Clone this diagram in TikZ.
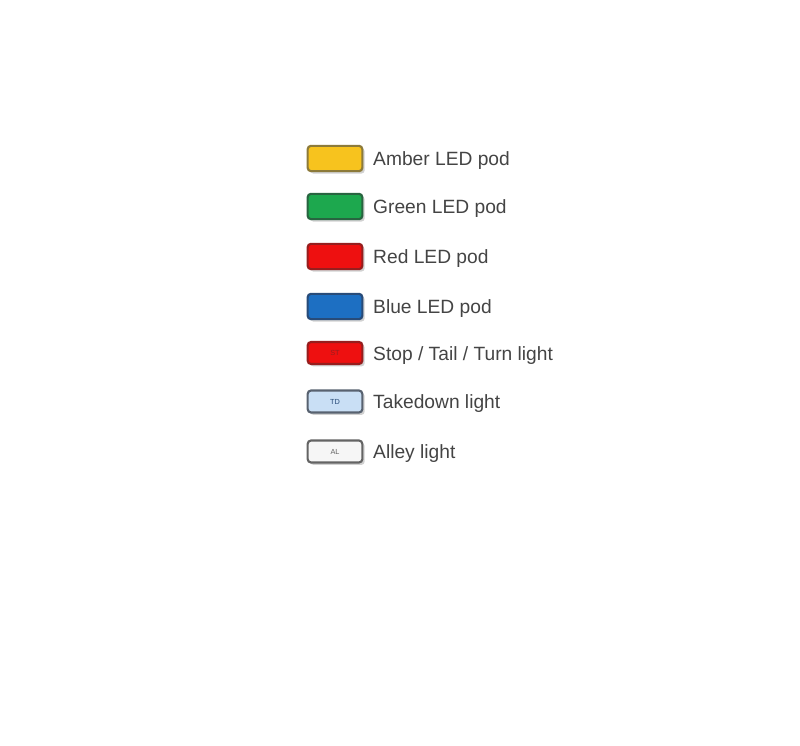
\documentclass[tikz,border=0pt]{standalone}
\usepackage{fontspec}
\setmainfont{Liberation Sans}
\usetikzlibrary{positioning,shadows}

\definecolor{amberfill}{RGB}{247,195,30}
\definecolor{amberline}{RGB}{140,122,58}
\definecolor{greenfill}{RGB}{29,168,78}
\definecolor{greenline}{RGB}{40,100,64}
\definecolor{redfill}{RGB}{238,16,16}
\definecolor{redline}{RGB}{150,30,30}
\definecolor{bluefill}{RGB}{29,111,194}
\definecolor{blueline}{RGB}{40,75,120}
\definecolor{tdfill}{RGB}{201,223,245}
\definecolor{tdline}{RGB}{88,98,112}
\definecolor{alfill}{RGB}{246,246,246}
\definecolor{alline}{RGB}{100,100,100}
\definecolor{labeltext}{RGB}{68,68,68}

\tikzset{every picture/.style={line width=0.75pt}}

\begin{document}
\begin{tikzpicture}[x=0.75pt,y=0.75pt,yscale=-1,xscale=1,
    podbox/.style={draw, line width=1.6pt, rounded corners=2.5pt, minimum width=41pt, minimum height=19pt, inner sep=0pt,
      drop shadow={shadow xshift=1.8pt, shadow yshift=-1.8pt, opacity=0.3, fill=black!60}},
    lampbox/.style={podbox, minimum height=16.5pt, font=\fontsize{5.5}{6}\selectfont},
    legendtext/.style={right=7pt of #1, inner sep=0pt, text height=10.5pt, text depth=0pt, text=labeltext, font=\fontsize{14.4}{16}\selectfont}]
    \useasboundingbox (0,0) rectangle (800,746);
    \node [podbox, fill=amberfill, draw=amberline] (amberpod) at (335,158.5) {};
    \node [podbox, fill=greenfill, draw=greenline] (greenpod) at (335,206.5) {};
    \node [podbox, fill=redfill, draw=redline] (redpod) at (335,256.5) {};
    \node [podbox, fill=bluefill, draw=blueline] (bluepod) at (335,306.5) {};
    \node [lampbox, fill=redfill, draw=redline, text=redline] (stlamp) at (335,353) {ST};
    \node [lampbox, fill=tdfill, draw=tdline, text=blueline] (tdlamp) at (335,401.5) {TD};
    \node [lampbox, fill=alfill, draw=alline, text=alline] (allamp) at (335,451.5) {AL};
    \node [legendtext=amberpod] (ambertext) {Amber LED pod};
    \node [legendtext=greenpod] (greentext) {Green LED pod};
    \node [legendtext=redpod] (redtext) {Red LED pod};
    \node [legendtext=bluepod] (bluetext) {Blue LED pod};
    \node [legendtext=stlamp] (sttext) {Stop / Tail / Turn light};
    \node [legendtext=tdlamp] (tdtext) {Takedown light};
    \node [legendtext=allamp] (altext) {Alley light};
\end{tikzpicture}
\end{document}
